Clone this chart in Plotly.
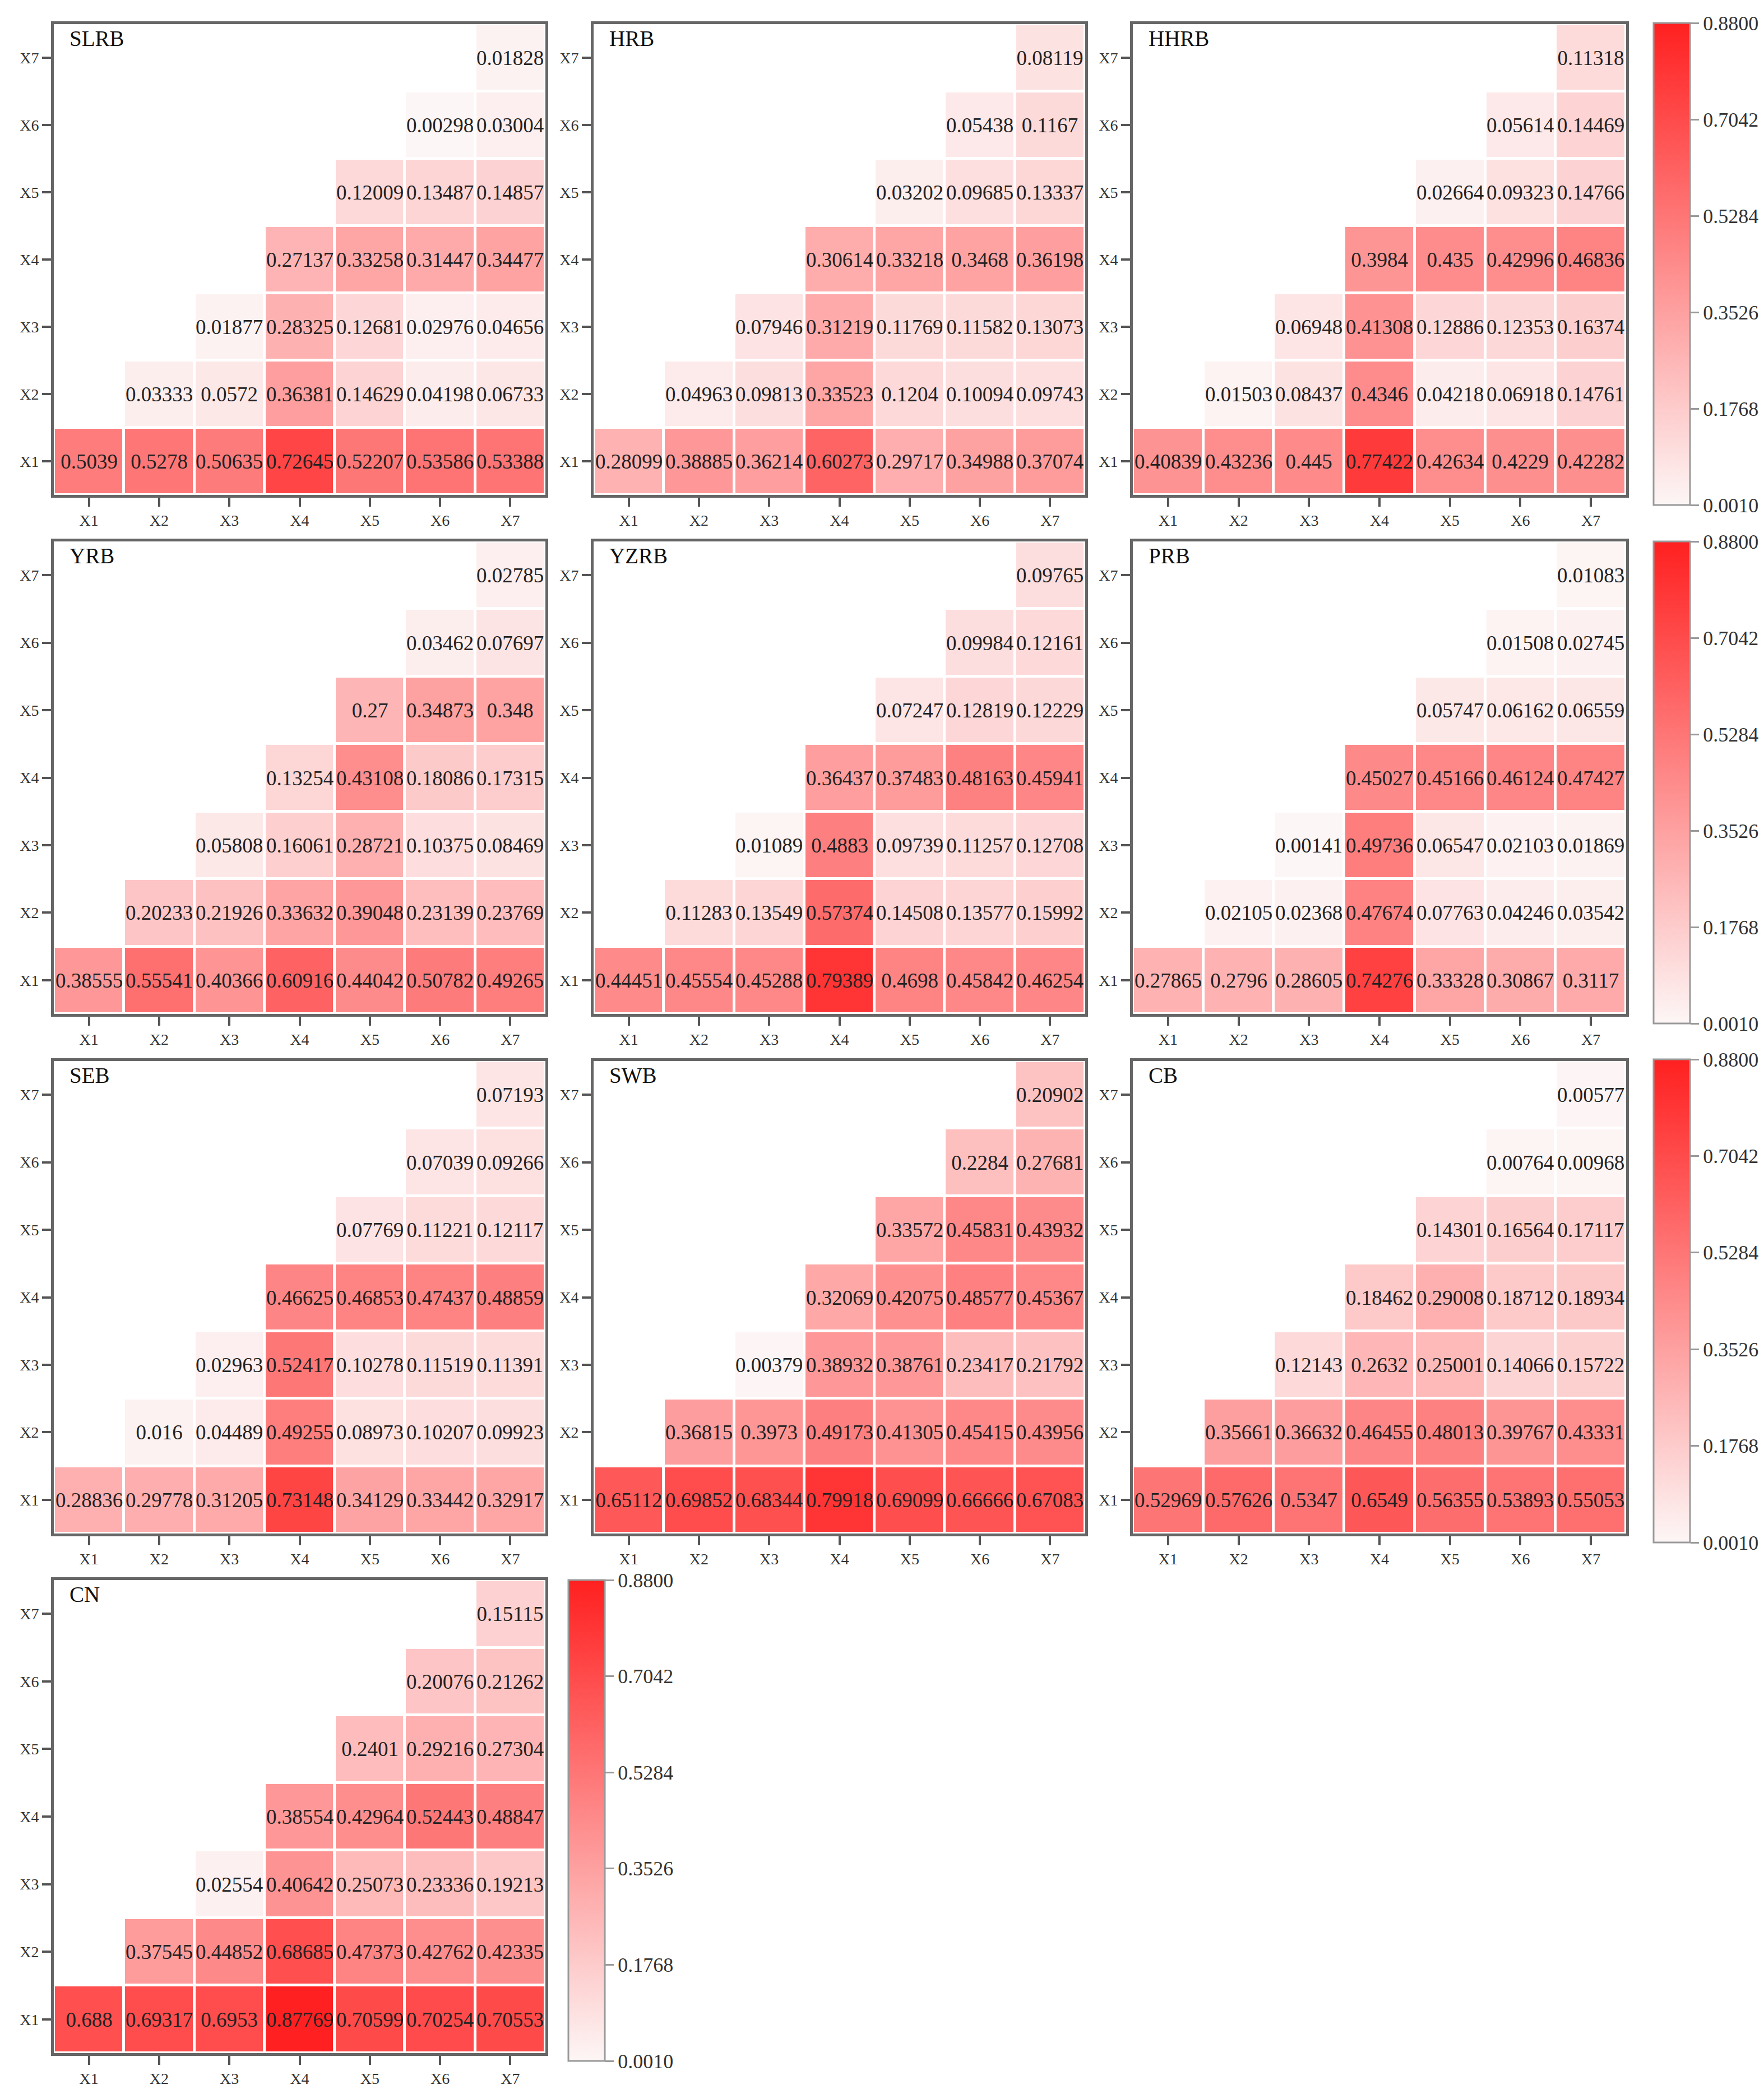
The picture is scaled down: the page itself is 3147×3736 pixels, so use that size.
import plotly.graph_objects as go

labels = ["X1", "X2", "X3", "X4", "X5", "X6", "X7"]
regions = ["SLRB", "HRB", "HHRB", "YRB", "YZRB", "PRB", "SEB", "SWB", "CB", "CN"]

# each row i (X1..X7) lists the values for columns Xi..X7
SLRB = [
    [0.5039, 0.5278, 0.50635, 0.72645, 0.52207, 0.53586, 0.53388],
    [0.03333, 0.0572, 0.36381, 0.14629, 0.04198, 0.06733],
    [0.01877, 0.28325, 0.12681, 0.02976, 0.04656],
    [0.27137, 0.33258, 0.31447, 0.34477],
    [0.12009, 0.13487, 0.14857],
    [0.00298, 0.03004],
    [0.01828],
]
HRB = [
    [0.28099, 0.38885, 0.36214, 0.60273, 0.29717, 0.34988, 0.37074],
    [0.04963, 0.09813, 0.33523, 0.1204, 0.10094, 0.09743],
    [0.07946, 0.31219, 0.11769, 0.11582, 0.13073],
    [0.30614, 0.33218, 0.3468, 0.36198],
    [0.03202, 0.09685, 0.13337],
    [0.05438, 0.1167],
    [0.08119],
]
HHRB = [
    [0.40839, 0.43236, 0.445, 0.77422, 0.42634, 0.4229, 0.42282],
    [0.01503, 0.08437, 0.4346, 0.04218, 0.06918, 0.14761],
    [0.06948, 0.41308, 0.12886, 0.12353, 0.16374],
    [0.3984, 0.435, 0.42996, 0.46836],
    [0.02664, 0.09323, 0.14766],
    [0.05614, 0.14469],
    [0.11318],
]
YRB = [
    [0.38555, 0.55541, 0.40366, 0.60916, 0.44042, 0.50782, 0.49265],
    [0.20233, 0.21926, 0.33632, 0.39048, 0.23139, 0.23769],
    [0.05808, 0.16061, 0.28721, 0.10375, 0.08469],
    [0.13254, 0.43108, 0.18086, 0.17315],
    [0.27, 0.34873, 0.348],
    [0.03462, 0.07697],
    [0.02785],
]
YZRB = [
    [0.44451, 0.45554, 0.45288, 0.79389, 0.4698, 0.45842, 0.46254],
    [0.11283, 0.13549, 0.57374, 0.14508, 0.13577, 0.15992],
    [0.01089, 0.4883, 0.09739, 0.11257, 0.12708],
    [0.36437, 0.37483, 0.48163, 0.45941],
    [0.07247, 0.12819, 0.12229],
    [0.09984, 0.12161],
    [0.09765],
]
PRB = [
    [0.27865, 0.2796, 0.28605, 0.74276, 0.33328, 0.30867, 0.3117],
    [0.02105, 0.02368, 0.47674, 0.07763, 0.04246, 0.03542],
    [0.00141, 0.49736, 0.06547, 0.02103, 0.01869],
    [0.45027, 0.45166, 0.46124, 0.47427],
    [0.05747, 0.06162, 0.06559],
    [0.01508, 0.02745],
    [0.01083],
]
SEB = [
    [0.28836, 0.29778, 0.31205, 0.73148, 0.34129, 0.33442, 0.32917],
    [0.016, 0.04489, 0.49255, 0.08973, 0.10207, 0.09923],
    [0.02963, 0.52417, 0.10278, 0.11519, 0.11391],
    [0.46625, 0.46853, 0.47437, 0.48859],
    [0.07769, 0.11221, 0.12117],
    [0.07039, 0.09266],
    [0.07193],
]
SWB = [
    [0.65112, 0.69852, 0.68344, 0.79918, 0.69099, 0.66666, 0.67083],
    [0.36815, 0.3973, 0.49173, 0.41305, 0.45415, 0.43956],
    [0.00379, 0.38932, 0.38761, 0.23417, 0.21792],
    [0.32069, 0.42075, 0.48577, 0.45367],
    [0.33572, 0.45831, 0.43932],
    [0.2284, 0.27681],
    [0.20902],
]
CB = [
    [0.52969, 0.57626, 0.5347, 0.6549, 0.56355, 0.53893, 0.55053],
    [0.35661, 0.36632, 0.46455, 0.48013, 0.39767, 0.43331],
    [0.12143, 0.2632, 0.25001, 0.14066, 0.15722],
    [0.18462, 0.29008, 0.18712, 0.18934],
    [0.14301, 0.16564, 0.17117],
    [0.00764, 0.00968],
    [0.00577],
]
CN = [
    [0.688, 0.69317, 0.6953, 0.87769, 0.70599, 0.70254, 0.70553],
    [0.37545, 0.44852, 0.68685, 0.47373, 0.42762, 0.42335],
    [0.02554, 0.40642, 0.25073, 0.23336, 0.19213],
    [0.38554, 0.42964, 0.52443, 0.48847],
    [0.2401, 0.29216, 0.27304],
    [0.20076, 0.21262],
    [0.15115],
]
data = [SLRB, HRB, HHRB, YRB, YZRB, PRB, SEB, SWB, CB, CN]

cbar_min, cbar_max = 0.001, 0.88
cbar_ticks = [0.001, 0.1768, 0.3526, 0.5284, 0.7042, 0.88]

W, H = 3147, 3736
FONT = "Liberation Serif"

col_left = [88, 1051, 2013]
col_right = [965, 1928, 2893]
row_top = [35, 958, 1885, 2811]
row_bot = [875, 1801, 2728, 3655]

cscale = [[0, "#fdf6f6"], [1, "#ff2020"]]

fig = go.Figure()
layout = {}


def full_matrix(tri):
    z = [[None] * 7 for _ in range(7)]
    t = [[""] * 7 for _ in range(7)]
    for i, row in enumerate(tri):
        for k, v in enumerate(row):
            j = i + k
            z[i][j] = v
            t[i][j] = str(v)
    return z, t


annotations = []
for idx, (name, tri) in enumerate(zip(regions, data)):
    r, c = divmod(idx, 3)
    z, t = full_matrix(tri)
    n = idx + 1
    xa = "x" if n == 1 else f"x{n}"
    ya = "y" if n == 1 else f"y{n}"
    ca = "coloraxis" if r == 0 else f"coloraxis{r + 1}"
    fig.add_trace(go.Heatmap(
        z=z, x=list(range(7)), y=list(range(7)), text=t,
        texttemplate="%{text}",
        textfont=dict(family=FONT, size=37, color="#222"),
        xgap=5, ygap=5, coloraxis=ca, xaxis=xa, yaxis=ya,
        hoverongaps=False,
    ))
    axis_common = dict(
        tickmode="array", tickvals=list(range(7)), ticktext=labels,
        range=[-0.5, 6.5], showgrid=False, zeroline=False,
        showline=True, mirror=True, linecolor="#666", linewidth=5,
        ticks="outside", ticklen=16, tickwidth=4, tickcolor="#555",
        tickfont=dict(family=FONT, size=28, color="#333"),
        fixedrange=True,
    )
    layout["xaxis" if n == 1 else f"xaxis{n}"] = dict(
        axis_common,
        domain=[col_left[c] / W, col_right[c] / W],
        anchor=ya,
    )
    layout["yaxis" if n == 1 else f"yaxis{n}"] = dict(
        axis_common,
        domain=[1 - row_bot[r] / H, 1 - row_top[r] / H],
        anchor=xa,
    )
    annotations.append(dict(
        text=name, xref=f"{xa} domain", yref=f"{ya} domain",
        x=0.03, y=0.97, xanchor="left", yanchor="middle", showarrow=False,
        font=dict(family=FONT, size=39, color="#111"),
    ))

cbars = [
    (2942, 33, 860),
    (2942, 958, 860),
    (2942, 1882, 862),
    (1006, 2811, 858),
]
for k, (cx, cy, clen) in enumerate(cbars):
    key = "coloraxis" if k == 0 else f"coloraxis{k + 1}"
    layout[key] = dict(
        colorscale=cscale, cmin=cbar_min, cmax=cbar_max,
        colorbar=dict(
            x=cx / W, xanchor="left", y=1 - cy / H, yanchor="top",
            len=clen, lenmode="pixels", thickness=65, thicknessmode="pixels",
            xpad=0, ypad=0, outlinecolor="#999", outlinewidth=3,
            tickmode="array", tickvals=cbar_ticks,
            ticktext=[f"{v:.4f}" for v in cbar_ticks],
            ticks="outside", ticklen=15, tickwidth=3, tickcolor="#999",
            tickfont=dict(family=FONT, size=36, color="#333"),
        ),
    )

fig.update_layout(
    width=W, height=H,
    margin=dict(l=0, r=0, t=0, b=0),
    paper_bgcolor="white", plot_bgcolor="white",
    annotations=annotations,
    **layout,
)

fig.write_html("out.html")
